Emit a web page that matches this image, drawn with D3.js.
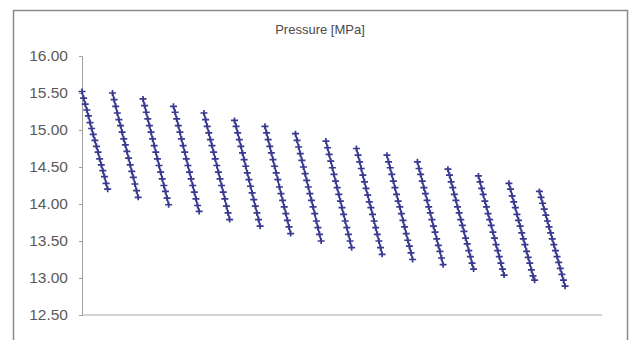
<!DOCTYPE html>
<html>
<head>
<meta charset="utf-8">
<script src="https://cdn.jsdelivr.net/npm/d3@7"></script>
<style>
  body { margin: 0; background: #fff; }
  svg { display: block; }
</style>
</head>
<body>
<div id="chart"></div>
<script>
// chart title
const titleText = 'Pressure [MPa]';

// y tick labels
const yTicks = [12.5, 13.0, 13.5, 14.0, 14.5, 15.0, 15.5, 16.0];

// pressure per cycle (17 samples each)
const pressureCycles = [
  [15.52, 15.43, 15.35, 15.27, 15.19, 15.10, 15.02, 14.94, 14.86, 14.78, 14.70, 14.61, 14.53, 14.45, 14.37, 14.28, 14.20],
  [15.50, 15.41, 15.32, 15.23, 15.14, 15.06, 14.97, 14.88, 14.80, 14.71, 14.62, 14.53, 14.44, 14.36, 14.27, 14.18, 14.09],
  [15.42, 15.33, 15.24, 15.15, 15.06, 14.97, 14.88, 14.79, 14.70, 14.61, 14.52, 14.43, 14.34, 14.25, 14.17, 14.08, 13.99],
  [15.32, 15.24, 15.15, 15.06, 14.97, 14.88, 14.79, 14.70, 14.61, 14.52, 14.43, 14.34, 14.25, 14.16, 14.07, 13.98, 13.90],
  [15.23, 15.14, 15.05, 14.96, 14.87, 14.79, 14.70, 14.61, 14.52, 14.43, 14.34, 14.25, 14.16, 14.07, 13.97, 13.88, 13.79],
  [15.13, 15.05, 14.96, 14.87, 14.78, 14.69, 14.60, 14.51, 14.42, 14.33, 14.24, 14.15, 14.06, 13.97, 13.88, 13.79, 13.70],
  [15.05, 14.96, 14.87, 14.78, 14.69, 14.60, 14.51, 14.42, 14.33, 14.23, 14.14, 14.05, 13.96, 13.87, 13.78, 13.69, 13.60],
  [14.95, 14.86, 14.77, 14.68, 14.59, 14.50, 14.41, 14.32, 14.23, 14.14, 14.05, 13.96, 13.87, 13.77, 13.68, 13.59, 13.50],
  [14.85, 14.76, 14.67, 14.58, 14.49, 14.40, 14.31, 14.22, 14.13, 14.04, 13.95, 13.86, 13.77, 13.68, 13.59, 13.50, 13.41],
  [14.75, 14.66, 14.57, 14.48, 14.39, 14.30, 14.21, 14.12, 14.03, 13.95, 13.86, 13.77, 13.68, 13.59, 13.50, 13.41, 13.32],
  [14.66, 14.57, 14.49, 14.40, 14.31, 14.22, 14.13, 14.04, 13.96, 13.87, 13.78, 13.69, 13.60, 13.51, 13.43, 13.34, 13.25],
  [14.57, 14.48, 14.40, 14.31, 14.22, 14.14, 14.05, 13.96, 13.88, 13.79, 13.70, 13.62, 13.53, 13.44, 13.36, 13.27, 13.18],
  [14.47, 14.39, 14.30, 14.22, 14.13, 14.05, 13.96, 13.88, 13.79, 13.71, 13.63, 13.54, 13.46, 13.37, 13.29, 13.20, 13.12],
  [14.38, 14.30, 14.21, 14.13, 14.04, 13.96, 13.87, 13.79, 13.71, 13.62, 13.54, 13.45, 13.37, 13.29, 13.20, 13.12, 13.04],
  [14.28, 14.20, 14.11, 14.03, 13.95, 13.86, 13.78, 13.70, 13.61, 13.53, 13.45, 13.36, 13.28, 13.20, 13.11, 13.03, 12.97],
  [14.17, 14.09, 14.01, 13.93, 13.85, 13.77, 13.69, 13.61, 13.53, 13.45, 13.37, 13.29, 13.21, 13.13, 13.05, 12.97, 12.89],
];

// samples per cycle slot (17 recorded + 2 idle)
const slotsPerCycle = 19;

const width = 633;
const height = 340;
const margin = { top: 56, right: 31, bottom: 25, left: 82 };
const lineColor = '#3a3990';

const svg = d3.select('#chart')
  .append('svg')
  .attr('width', width)
  .attr('height', height);

// outer frame
svg.append('rect')
  .attr('x', 13.5)
  .attr('y', 10.5)
  .attr('width', 614)
  .attr('height', 340)
  .attr('fill', 'none')
  .attr('stroke', '#8a8a8a')
  .attr('stroke-width', 1.5);

// title
svg.append('text')
  .attr('x', 320)
  .attr('y', 34)
  .attr('text-anchor', 'middle')
  .style('font-family', '"Liberation Sans", Arial, sans-serif')
  .style('font-size', '13px')
  .style('fill', '#4a4a4a')
  .text(titleText);

const x = d3.scaleLinear()
  .domain([0, 324])
  .range([margin.left, width - margin.right]);

const y = d3.scaleLinear()
  .domain([12.5, 16])
  .range([height - margin.bottom, margin.top]);

// y axis
const yAxis = svg.append('g')
  .attr('transform', `translate(${margin.left},0)`)
  .call(d3.axisLeft(y).tickValues(yTicks).tickFormat(d3.format('.2f')).tickSize(3).tickPadding(11));

yAxis.select('.domain').attr('stroke', '#a0a0a0');
yAxis.selectAll('.tick line').attr('stroke', '#a0a0a0');
yAxis.selectAll('.tick text')
  .style('font-family', '"Liberation Sans", Arial, sans-serif')
  .style('font-size', '15.5px')
  .style('fill', '#5a5a5a');

// x axis (no labels)
svg.append('line')
  .attr('x1', margin.left)
  .attr('x2', width - margin.right)
  .attr('y1', y(12.5))
  .attr('y2', y(12.5))
  .attr('stroke', '#a8a8a8')
  .attr('stroke-width', 1);

// points with running sample index
const cycles = pressureCycles.map((values, c) =>
  values.map((v, j) => ({ t: c * slotsPerCycle + j, v }))
);

const line = d3.line()
  .x(d => x(d.t))
  .y(d => y(d.v));

const group = svg.selectAll('g.cycle')
  .data(cycles)
  .enter()
  .append('g')
  .attr('class', 'cycle');

group.append('path')
  .attr('d', d => line(d))
  .attr('fill', 'none')
  .attr('stroke', lineColor)
  .attr('stroke-width', 1.7);

// plus markers
group.selectAll('path.marker')
  .data(d => d)
  .enter()
  .append('path')
  .attr('class', 'marker')
  .attr('d', d => {
    const cx = x(d.t);
    const cy = y(d.v);
    return `M${cx - 3.5},${cy}H${cx + 3.5}M${cx},${cy - 3}V${cy + 3}`;
  })
  .attr('stroke', lineColor)
  .attr('stroke-width', 1.7)
  .attr('fill', 'none');
</script>
</body>
</html>
